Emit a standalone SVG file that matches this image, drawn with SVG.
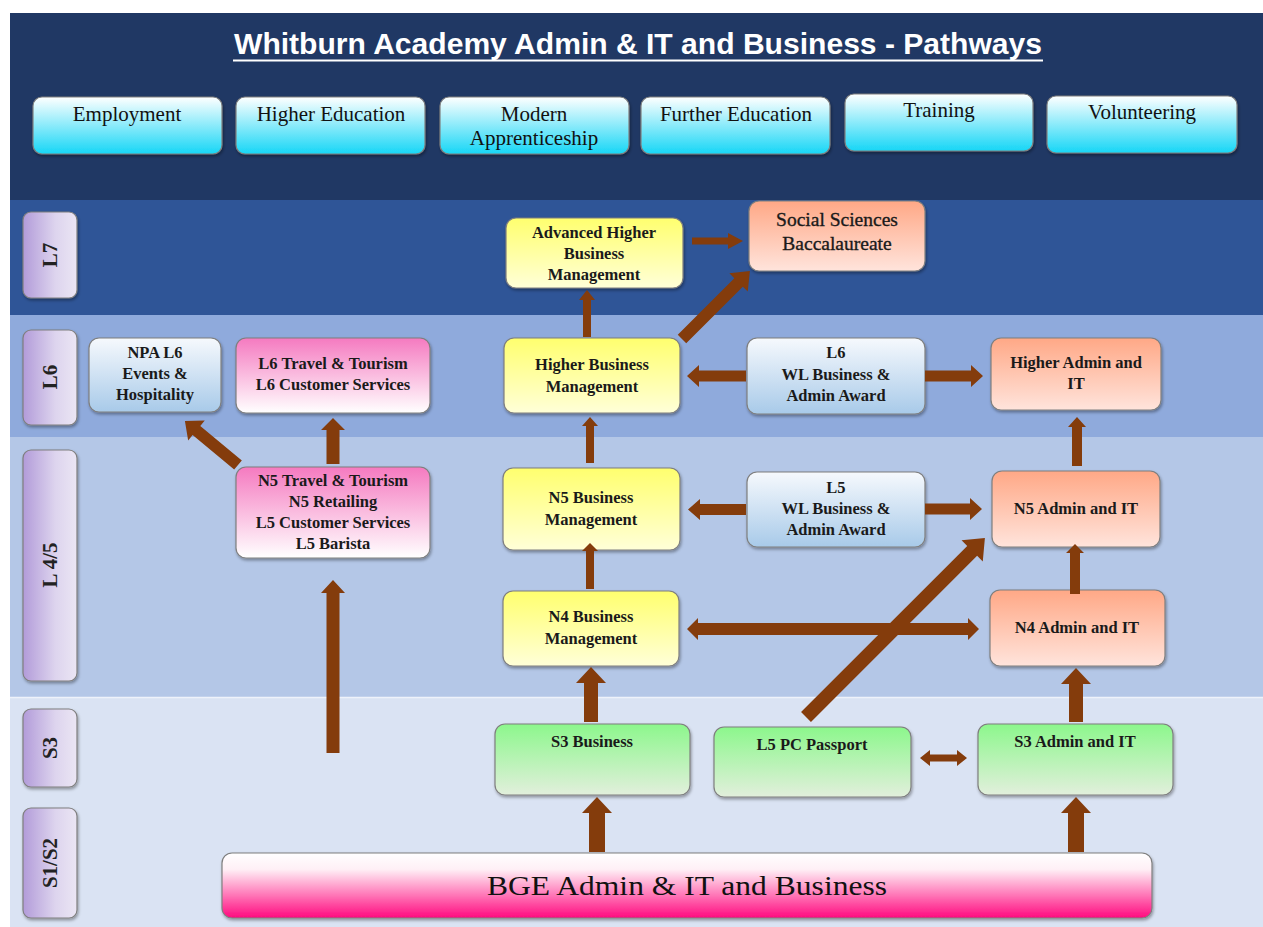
<svg xmlns="http://www.w3.org/2000/svg" width="1263" height="927" viewBox="0 0 1263 927">
<defs>
<linearGradient id="gCyan" x1="0" y1="0" x2="0" y2="1"><stop offset="0" stop-color="#ffffff"/><stop offset="1" stop-color="#16d6f6"/></linearGradient>
<linearGradient id="gPurple" x1="0" y1="0" x2="1" y2="0"><stop offset="0" stop-color="#b29bd9"/><stop offset="0.6" stop-color="#ddd4ee"/><stop offset="1" stop-color="#ebe6f4"/></linearGradient>
<linearGradient id="gYellow" x1="0" y1="0" x2="0" y2="1"><stop offset="0" stop-color="#ffff6e"/><stop offset="1" stop-color="#ffffd8"/></linearGradient>
<linearGradient id="gSalmon" x1="0" y1="0" x2="0" y2="1"><stop offset="0" stop-color="#ffa886"/><stop offset="1" stop-color="#ffe4dc"/></linearGradient>
<linearGradient id="gBlue" x1="0" y1="0" x2="0" y2="1"><stop offset="0" stop-color="#f6f9fd"/><stop offset="1" stop-color="#a8cae9"/></linearGradient>
<linearGradient id="gPink" x1="0" y1="0" x2="0" y2="1"><stop offset="0" stop-color="#f57ac0"/><stop offset="1" stop-color="#ffffff"/></linearGradient>
<linearGradient id="gGreen" x1="0" y1="0" x2="0" y2="1"><stop offset="0" stop-color="#8cf78c"/><stop offset="1" stop-color="#e2efdc"/></linearGradient>
<linearGradient id="gBGE" x1="0" y1="0" x2="0" y2="1"><stop offset="0" stop-color="#ffffff"/><stop offset="0.25" stop-color="#fff0f6"/><stop offset="1" stop-color="#ff0a7f"/></linearGradient>
<filter id="sh" x="-10%" y="-10%" width="120%" height="130%"><feDropShadow dx="1" dy="2" stdDeviation="1.5" flood-color="#000" flood-opacity="0.35"/></filter>
</defs>
<style>
.box{stroke:#7f7f7f;stroke-width:1.2;filter:url(#sh)}
.t{font-family:"Liberation Serif","Times New Roman",serif;font-weight:bold;font-size:16.5px;fill:#1a1a1a;text-anchor:middle}
.top{font-family:"Liberation Serif","Times New Roman",serif;font-size:21px;fill:#111;text-anchor:middle}
.lab{font-family:"Liberation Serif","Times New Roman",serif;font-weight:bold;font-size:21px;fill:#222;text-anchor:middle}
.arr{fill:#843c0c}
</style>

<g id="background">
<rect x="0" y="0" width="1263" height="927" fill="#ffffff"/>
<rect x="10" y="13" width="1253" height="188" fill="#203864"/>
<rect x="10" y="200" width="1253" height="115" fill="#2f5597"/>
<rect x="10" y="315" width="1253" height="122" fill="#8faadc"/>
<rect x="10" y="437" width="1253" height="260" fill="#b4c7e7"/>
<rect x="10" y="697" width="1253" height="230" fill="#dae3f3"/>
<line x1="10" y1="697.5" x2="1263" y2="697.5" stroke="#eef2fa" stroke-width="1.5"/>
</g>

<g id="title">
<text x="638" y="54" font-family="'Liberation Sans',Arial,sans-serif" font-weight="bold" font-size="29" fill="#ffffff" text-anchor="middle" textLength="808" lengthAdjust="spacingAndGlyphs">Whitburn Academy Admin &amp; IT and Business - Pathways</text>
<line x1="233" y1="60.5" x2="1043" y2="60.5" stroke="#ffffff" stroke-width="2"/>
</g>

<g id="dest-employment"><rect class="box" x="33" y="97" width="189" height="57" rx="9" fill="url(#gCyan)"/><text class="top" x="127" y="121">Employment</text></g>
<g id="dest-higher-education"><rect class="box" x="236" y="97" width="189" height="57" rx="9" fill="url(#gCyan)"/><text class="top" x="331" y="121">Higher Education</text></g>
<g id="dest-modern-apprenticeship"><rect class="box" x="440" y="97" width="189" height="57" rx="9" fill="url(#gCyan)"/><text class="top" x="534" y="121">Modern</text><text class="top" x="534" y="145">Apprenticeship</text></g>
<g id="dest-further-education"><rect class="box" x="641" y="97" width="189" height="57" rx="9" fill="url(#gCyan)"/><text class="top" x="736" y="121">Further Education</text></g>
<g id="dest-training"><rect class="box" x="845" y="94" width="188" height="57" rx="9" fill="url(#gCyan)"/><text class="top" x="939" y="117">Training</text></g>
<g id="dest-volunteering"><rect class="box" x="1047" y="96" width="190" height="57" rx="9" fill="url(#gCyan)"/><text class="top" x="1142" y="119">Volunteering</text></g>

<g id="level-L7"><rect class="box" x="23" y="212" width="54" height="86" rx="8" fill="url(#gPurple)"/><text class="lab" transform="translate(57,255) rotate(-90)">L7</text></g>
<g id="level-L6"><rect class="box" x="23" y="330" width="54" height="95" rx="8" fill="url(#gPurple)"/><text class="lab" transform="translate(57,377) rotate(-90)">L6</text></g>
<g id="level-L45"><rect class="box" x="23" y="450" width="54" height="231" rx="8" fill="url(#gPurple)"/><text class="lab" transform="translate(57,565) rotate(-90)">L 4/5</text></g>
<g id="level-S3"><rect class="box" x="23" y="709" width="54" height="78" rx="8" fill="url(#gPurple)"/><text class="lab" transform="translate(57,748) rotate(-90)">S3</text></g>
<g id="level-S1S2"><rect class="box" x="23" y="808" width="54" height="110" rx="8" fill="url(#gPurple)"/><text class="lab" transform="translate(57,863) rotate(-90)">S1/S2</text></g>

<g id="adv-higher-business"><rect class="box" x="506" y="218" width="177" height="70" rx="10" fill="url(#gYellow)"/><text class="t" x="594" y="238">Advanced Higher</text><text class="t" x="594" y="259">Business</text><text class="t" x="594" y="280">Management</text></g>
<g id="social-sciences-bacc"><rect class="box" x="749" y="201" width="176" height="70" rx="10" fill="url(#gSalmon)"/><text class="t" x="837" y="226" style="font-size:19.5px;font-weight:normal;stroke:#1a1a1a;stroke-width:0.35">Social Sciences</text><text class="t" x="837" y="250" style="font-size:19.5px;font-weight:normal;stroke:#1a1a1a;stroke-width:0.35">Baccalaureate</text></g>
<g id="npa-l6-events"><rect class="box" x="89" y="338" width="132" height="74" rx="10" fill="url(#gBlue)"/><text class="t" x="155" y="358">NPA L6</text><text class="t" x="155" y="379">Events &amp;</text><text class="t" x="155" y="400">Hospitality</text></g>
<g id="l6-travel-tourism"><rect class="box" x="236" y="338" width="194" height="75" rx="10" fill="url(#gPink)"/><text class="t" x="333" y="369">L6 Travel &amp; Tourism</text><text class="t" x="333" y="390">L6 Customer Services</text></g>
<g id="higher-business"><rect class="box" x="504" y="338" width="176" height="75" rx="10" fill="url(#gYellow)"/><text class="t" x="592" y="370">Higher Business</text><text class="t" x="592" y="392">Management</text></g>
<g id="l6-wl-award"><rect class="box" x="747" y="338" width="178" height="76" rx="10" fill="url(#gBlue)"/><text class="t" x="836" y="358">L6</text><text class="t" x="836" y="380">WL Business &amp;</text><text class="t" x="836" y="401">Admin Award</text></g>
<g id="higher-admin-it"><rect class="box" x="991" y="338" width="170" height="72" rx="10" fill="url(#gSalmon)"/><text class="t" x="1076" y="368">Higher Admin and</text><text class="t" x="1076" y="389">IT</text></g>
<g id="n5-travel-tourism"><rect class="box" x="236" y="467" width="194" height="91" rx="10" fill="url(#gPink)"/><text class="t" x="333" y="486">N5 Travel &amp; Tourism</text><text class="t" x="333" y="507">N5 Retailing</text><text class="t" x="333" y="528">L5 Customer Services</text><text class="t" x="333" y="549">L5 Barista</text></g>
<g id="n5-business"><rect class="box" x="503" y="468" width="177" height="82" rx="10" fill="url(#gYellow)"/><text class="t" x="591" y="503">N5 Business</text><text class="t" x="591" y="525">Management</text></g>
<g id="l5-wl-award"><rect class="box" x="747" y="472" width="178" height="75" rx="10" fill="url(#gBlue)"/><text class="t" x="836" y="493">L5</text><text class="t" x="836" y="514">WL Business &amp;</text><text class="t" x="836" y="535">Admin Award</text></g>
<g id="n5-admin-it"><rect class="box" x="992" y="471" width="168" height="76" rx="10" fill="url(#gSalmon)"/><text class="t" x="1076" y="514">N5 Admin and IT</text></g>
<g id="n4-business"><rect class="box" x="503" y="591" width="176" height="75" rx="10" fill="url(#gYellow)"/><text class="t" x="591" y="622">N4 Business</text><text class="t" x="591" y="644">Management</text></g>
<g id="n4-admin-it"><rect class="box" x="990" y="590" width="175" height="76" rx="10" fill="url(#gSalmon)"/><text class="t" x="1077" y="633">N4 Admin and IT</text></g>
<g id="s3-business"><rect class="box" x="495" y="724" width="195" height="71" rx="10" fill="url(#gGreen)"/><text class="t" x="592" y="747">S3 Business</text></g>
<g id="l5-pc-passport"><rect class="box" x="714" y="727" width="197" height="70" rx="10" fill="url(#gGreen)"/><text class="t" x="812" y="750">L5 PC Passport</text></g>
<g id="s3-admin-it"><rect class="box" x="978" y="724" width="195" height="71" rx="10" fill="url(#gGreen)"/><text class="t" x="1075" y="747">S3 Admin and IT</text></g>
<g id="bge"><rect class="box" x="222" y="853" width="930" height="65" rx="10" fill="url(#gBGE)"/><text x="687" y="895" font-family="'Liberation Serif','Times New Roman',serif" font-size="27" fill="#111" text-anchor="middle" textLength="400" lengthAdjust="spacingAndGlyphs">BGE Admin &amp; IT and Business</text></g>

<g id="connectors">
<polygon class="arr" points="583,337 583,300 579,300 587,290 595,300 591,300 591,337"/>
<polygon class="arr" transform="translate(682,339) rotate(-45)" points="0,-6 80,-6 80,-13 96,0 80,13 80,6 0,6"/>
<polygon class="arr" points="692,237.5 728,237.5 728,233 743,241 728,249 728,244.5 692,244.5"/>
<polygon class="arr" points="746,370.5 699,370.5 699,365 687,376 699,387 699,381.5 746,381.5"/>
<polygon class="arr" points="925,370.5 971,370.5 971,365 983,376 971,387 971,381.5 925,381.5"/>
<polygon class="arr" points="1072,466 1072,427 1068,427 1077,417 1086,427 1082,427 1082,466"/>
<polygon class="arr" points="586,463 586,426 582,426 590,417 598,426 594,426 594,463"/>
<polygon class="arr" transform="translate(238,465) rotate(-140.3)" points="0,-6 54,-6 54,-13 69,0 54,13 54,6 0,6"/>
<polygon class="arr" points="326.5,464 326.5,430 321,430 333,418 345,430 339.5,430 339.5,464"/>
<polygon class="arr" points="326.5,753 326.5,593 321,593 333,580 345,593 339.5,593 339.5,753"/>
<polygon class="arr" points="746,504 700,504 700,499 688,509.5 700,520 700,515 746,515"/>
<polygon class="arr" points="925,503.5 970,503.5 970,498 982,509 970,520 970,514.5 925,514.5"/>
<polygon class="arr" points="586,589 586,551 582,551 590,543 598,551 594,551 594,589"/>
<polygon class="arr" points="687,629 698,618 698,623 968,623 968,618 979,629 968,640 968,635 698,635 698,640"/>
<polygon class="arr" transform="translate(806,717) rotate(-45)" points="0,-7 235,-7 235,-15 253,0 235,15 235,7 0,7"/>
<polygon class="arr" points="584,722 584,683 576,683 591,667 606,683 598,683 598,722"/>
<polygon class="arr" points="589,852 589,813 582,813 597,797 612,813 605,813 605,852"/>
<polygon class="arr" points="1068,852 1068,813 1061,813 1076,797 1091,813 1084,813 1084,852"/>
<polygon class="arr" points="1069,722 1069,684 1061,684 1076,668 1091,684 1083,684 1083,722"/>
<polygon class="arr" points="920,758 930,750 930,754.5 957,754.5 957,750 967,758 957,766 957,761.5 930,761.5 930,766"/>
<polygon class="arr" points="1070,594 1070,553 1066,553 1075,544 1084,553 1080,553 1080,594"/>
</g>
</svg>
